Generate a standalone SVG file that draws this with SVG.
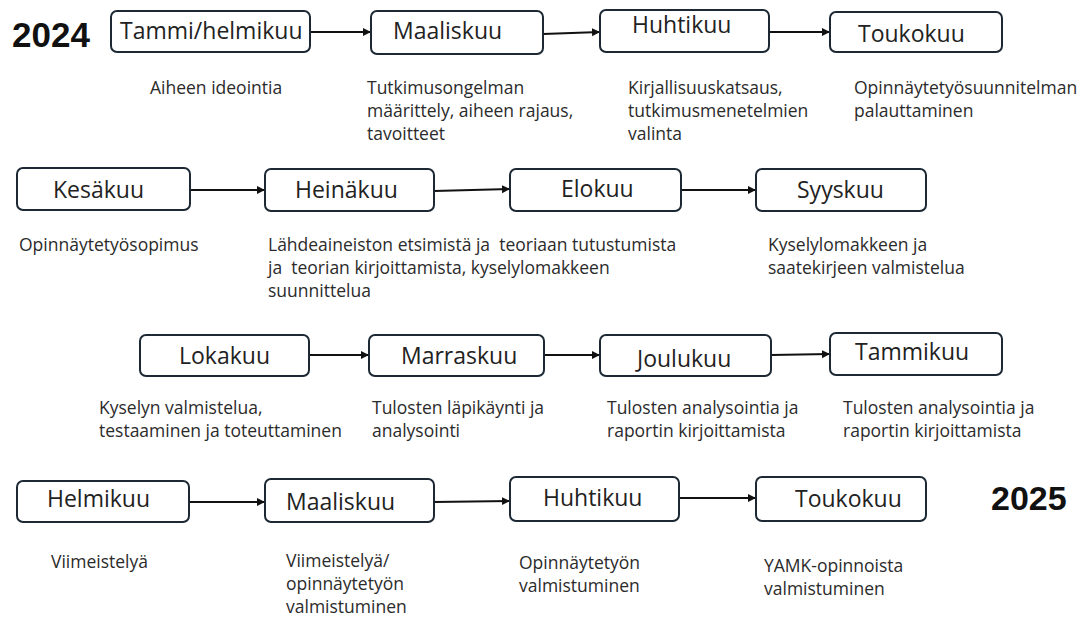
<svg xmlns="http://www.w3.org/2000/svg" width="1086" height="619" viewBox="0 0 1086 619">
<style>
.box{fill:#fff;stroke:#1c2833;stroke-width:2;}
.m{font-family:"Open Sans","Noto Sans",sans-serif;font-size:23px;fill:#222;}
.d{font-family:"Open Sans","Noto Sans",sans-serif;font-size:17.5px;fill:#2b2b2b;white-space:pre;}
.y{font-family:"Liberation Sans",Arial,sans-serif;font-weight:bold;font-size:35px;fill:#111;}
.c{stroke:#111;stroke-width:2;fill:none;marker-end:url(#ah);}
</style>
<defs>
<marker id="ah" markerUnits="userSpaceOnUse" markerWidth="10" markerHeight="10" refX="8" refY="4" orient="auto">
<path d="M0,0 L8,4 L0,8 Z" fill="#111"/>
</marker>
</defs>
<rect width="1086" height="619" fill="#fff"/>
<text class="y" x="12" y="47">2024</text>
<text class="y" x="991" y="510" style="font-size:34px">2025</text>
<g id="connectors">
<line class="c" x1="310" y1="32" x2="371" y2="32"/>
<line class="c" x1="543" y1="34" x2="600" y2="32"/>
<line class="c" x1="769" y1="32" x2="830" y2="32"/>
<line class="c" x1="190" y1="190" x2="265" y2="190"/>
<line class="c" x1="434" y1="191" x2="510" y2="189"/>
<line class="c" x1="681" y1="190" x2="756" y2="190"/>
<line class="c" x1="309" y1="355" x2="369" y2="355"/>
<line class="c" x1="544" y1="355" x2="600" y2="355"/>
<line class="c" x1="771" y1="355" x2="830" y2="354"/>
<line class="c" x1="189" y1="502" x2="265" y2="502"/>
<line class="c" x1="434" y1="502" x2="510" y2="501"/>
<line class="c" x1="679" y1="498" x2="756" y2="498"/>
</g>
<g id="n1"><rect class="box" x="111" y="11" width="199" height="41" rx="6"/><text class="m" x="120" y="39">Tammi/helmikuu</text>
<text class="d" x="150" y="94">Aiheen ideointia</text></g>
<g id="n2"><rect class="box" x="371" y="11" width="172" height="43" rx="6"/><text class="m" x="393" y="39">Maaliskuu</text>
<text class="d" x="367" y="94">Tutkimusongelman</text><text class="d" x="367" y="117">määrittely, aiheen rajaus,</text><text class="d" x="367" y="140">tavoitteet</text></g>
<g id="n3"><rect class="box" x="600" y="10" width="169" height="42" rx="6"/><text class="m" x="632" y="33">Huhtikuu</text>
<text class="d" x="628" y="94">Kirjallisuuskatsaus,</text><text class="d" x="628" y="117">tutkimusmenetelmien</text><text class="d" x="628" y="140">valinta</text></g>
<g id="n4"><rect class="box" x="830" y="12" width="172" height="40" rx="6"/><text class="m" x="858" y="42">Toukokuu</text>
<text class="d" x="854" y="94">Opinnäytetyösuunnitelman</text><text class="d" x="854" y="117">palauttaminen</text></g>
<g id="n5"><rect class="box" x="17" y="168" width="173" height="42" rx="6"/><text class="m" x="53" y="198">Kesäkuu</text>
<text class="d" x="19" y="251">Opinnäytetyösopimus</text></g>
<g id="n6"><rect class="box" x="265" y="169" width="169" height="42" rx="6"/><text class="m" x="295" y="198">Heinäkuu</text>
<text class="d" x="268" y="251">Lähdeaineiston etsimistä ja  teoriaan tutustumista</text><text class="d" x="268" y="274">ja  teorian kirjoittamista, kyselylomakkeen</text><text class="d" x="268" y="297">suunnittelua</text></g>
<g id="n7"><rect class="box" x="510" y="169" width="171" height="42" rx="6"/><text class="m" x="561" y="197">Elokuu</text></g>
<g id="n8"><rect class="box" x="756" y="169" width="170" height="42" rx="6"/><text class="m" x="797" y="198">Syyskuu</text>
<text class="d" x="768" y="251">Kyselylomakkeen ja</text><text class="d" x="768" y="274">saatekirjeen valmistelua</text></g>
<g id="n9"><rect class="box" x="140" y="335" width="169" height="41" rx="6"/><text class="m" x="179" y="364">Lokakuu</text>
<text class="d" x="99" y="414">Kyselyn valmistelua,</text><text class="d" x="99" y="437">testaaminen ja toteuttaminen</text></g>
<g id="n10"><rect class="box" x="369" y="335" width="175" height="41" rx="6"/><text class="m" x="401" y="364">Marraskuu</text>
<text class="d" x="372" y="414">Tulosten läpikäynti ja</text><text class="d" x="372" y="437">analysointi</text></g>
<g id="n11"><rect class="box" x="600" y="335" width="171" height="41" rx="6"/><text class="m" x="637" y="367">Joulukuu</text>
<text class="d" x="607" y="414">Tulosten analysointia ja</text><text class="d" x="607" y="437">raportin kirjoittamista</text></g>
<g id="n12"><rect class="box" x="830" y="333" width="172" height="42" rx="6"/><text class="m" x="855" y="360">Tammikuu</text>
<text class="d" x="843" y="414">Tulosten analysointia ja</text><text class="d" x="843" y="437">raportin kirjoittamista</text></g>
<g id="n13"><rect class="box" x="17" y="481" width="172" height="41" rx="6"/><text class="m" x="47" y="507">Helmikuu</text>
<text class="d" x="51" y="568">Viimeistelyä</text></g>
<g id="n14"><rect class="box" x="265" y="479" width="169" height="43" rx="6"/><text class="m" x="286" y="510">Maaliskuu</text>
<text class="d" x="286" y="567">Viimeistelyä/</text><text class="d" x="286" y="590">opinnäytetyön</text><text class="d" x="286" y="613">valmistuminen</text></g>
<g id="n15"><rect class="box" x="510" y="477" width="169" height="44" rx="6"/><text class="m" x="543" y="506">Huhtikuu</text>
<text class="d" x="519" y="569">Opinnäytetyön</text><text class="d" x="519" y="592">valmistuminen</text></g>
<g id="n16"><rect class="box" x="756" y="477" width="170" height="44" rx="6"/><text class="m" x="795" y="507">Toukokuu</text>
<text class="d" x="764" y="572">YAMK-opinnoista</text><text class="d" x="764" y="595">valmistuminen</text></g>
</svg>
